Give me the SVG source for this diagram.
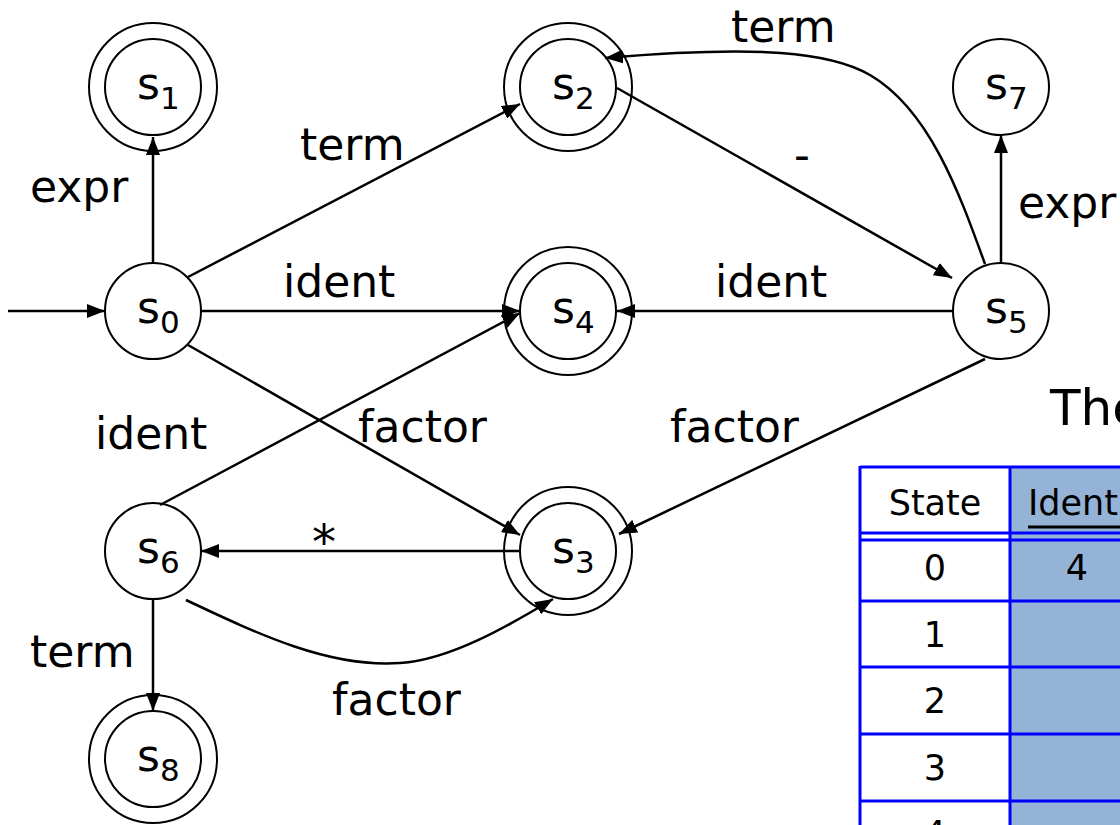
<svg xmlns="http://www.w3.org/2000/svg" width="1120" height="825" viewBox="0 0 1120 825">
<style>
  .c { fill: #fff; stroke: #000; stroke-width: 2; }
  .c2 { fill: none; stroke: #000; stroke-width: 2; }
  .e { fill: none; stroke: #000; stroke-width: 2.5; marker-end: url(#ah); }
  .t { font-family: "DejaVu Sans", "Liberation Sans", sans-serif; font-size: 44px; fill: #000; }
  .sub { font-size: 31px; }
  .tb { font-family: "DejaVu Sans", "Liberation Sans", sans-serif; font-size: 35px; fill: #000; text-anchor: middle; }
  .bl { stroke: #0000ff; stroke-width: 3; fill: none; }
</style>
<defs>
  <marker id="ah" viewBox="0 0 18 14" refX="18" refY="7" markerWidth="18" markerHeight="14" orient="auto" markerUnits="userSpaceOnUse">
    <path d="M0,0 L18,7 L0,14 z" fill="#000"/>
  </marker>
</defs>
<rect width="1120" height="825" fill="#fff"/>

<g id="table">
  <rect x="1010" y="467" width="112" height="360" fill="#95b3d7"/>
  <line class="bl" x1="860" y1="467" x2="1122" y2="467"/>
  <line class="bl" x1="860" y1="533" x2="1122" y2="533"/>
  <line class="bl" x1="860" y1="540" x2="1122" y2="540"/>
  <line class="bl" x1="860" y1="601" x2="1122" y2="601"/>
  <line class="bl" x1="860" y1="667" x2="1122" y2="667"/>
  <line class="bl" x1="860" y1="734" x2="1122" y2="734"/>
  <line class="bl" x1="860" y1="801" x2="1122" y2="801"/>
  <line class="bl" x1="860" y1="466" x2="860" y2="827"/>
  <line class="bl" x1="1010" y1="466" x2="1010" y2="827"/>
  <text class="tb" x="935" y="515">State</text>
  <text class="tb" x="1028" y="515" style="text-anchor:start">Ident</text>
  <line x1="1028" y1="527" x2="1122" y2="527" stroke="#000" stroke-width="3"/>
  <text class="tb" x="935" y="580">0</text>
  <text class="tb" x="1077" y="580">4</text>
  <text class="tb" x="935" y="647">1</text>
  <text class="tb" x="935" y="713">2</text>
  <text class="tb" x="935" y="780">3</text>
  <text class="tb" x="935" y="846">4</text>
</g>

<text class="t" x="1050" y="425" style="font-size:50px">The</text>

<g id="s0"><circle class="c" cx="153" cy="311" r="48"/><text class="t" x="137" y="323">s<tspan class="sub" dy="10">0</tspan></text></g>
<g id="s1"><circle class="c" cx="153" cy="87" r="64"/><circle class="c2" cx="153" cy="87" r="48"/><text class="t" x="137" y="99">s<tspan class="sub" dy="10">1</tspan></text></g>
<g id="s2"><circle class="c" cx="568" cy="87" r="64"/><circle class="c2" cx="568" cy="87" r="48"/><text class="t" x="552" y="99">s<tspan class="sub" dy="10">2</tspan></text></g>
<g id="s3"><circle class="c" cx="568" cy="551" r="64"/><circle class="c2" cx="568" cy="551" r="48"/><text class="t" x="552" y="563">s<tspan class="sub" dy="10">3</tspan></text></g>
<g id="s4"><circle class="c" cx="568" cy="311" r="64"/><circle class="c2" cx="568" cy="311" r="48"/><text class="t" x="552" y="323">s<tspan class="sub" dy="10">4</tspan></text></g>
<g id="s5"><circle class="c" cx="1001" cy="311" r="48"/><text class="t" x="985" y="323">s<tspan class="sub" dy="10">5</tspan></text></g>
<g id="s6"><circle class="c" cx="153" cy="551" r="48"/><text class="t" x="137" y="563">s<tspan class="sub" dy="10">6</tspan></text></g>
<g id="s7"><circle class="c" cx="1001" cy="87" r="48"/><text class="t" x="985" y="99">s<tspan class="sub" dy="10">7</tspan></text></g>
<g id="s8"><circle class="c" cx="153" cy="759" r="64"/><circle class="c2" cx="153" cy="759" r="48"/><text class="t" x="137" y="771">s<tspan class="sub" dy="10">8</tspan></text></g>

<g id="edges">
  <line class="e" x1="8" y1="311" x2="105" y2="311"/>
  <line class="e" x1="153" y1="263" x2="153" y2="137"/>
  <line class="e" x1="188" y1="277" x2="520" y2="104"/>
  <line class="e" x1="201" y1="311" x2="520" y2="311"/>
  <line class="e" x1="188" y1="345" x2="520" y2="535"/>
  <line class="e" x1="160" y1="505" x2="520" y2="313"/>
  <line class="e" x1="953" y1="311" x2="617" y2="311"/>
  <line class="e" x1="617" y1="88" x2="952" y2="278"/>
  <path class="e" d="M985,264 C960,195 930,110 870,75 C830,52 760,45 605,58"/>
  <line class="e" x1="1001" y1="263" x2="1001" y2="135"/>
  <line class="e" x1="985" y1="359" x2="619" y2="534"/>
  <line class="e" x1="520" y1="551" x2="201" y2="551"/>
  <path class="e" d="M186,600 C260,635 330,668 400,663 C450,660 510,625 553,599"/>
  <line class="e" x1="153" y1="599" x2="153" y2="711"/>
</g>

<g id="labels">
  <text class="t" x="30" y="202">expr</text>
  <text class="t" x="300" y="160">term</text>
  <text class="t" x="283" y="297">ident</text>
  <text class="t" x="715" y="297">ident</text>
  <text class="t" x="731" y="42">term</text>
  <text class="t" x="802" y="170" text-anchor="middle">-</text>
  <text class="t" x="1018" y="218">expr</text>
  <text class="t" x="358" y="442">factor</text>
  <text class="t" x="670" y="442">factor</text>
  <text class="t" x="95" y="449">ident</text>
  <text class="t" x="324" y="559" text-anchor="middle" style="font-size:48px">*</text>
  <text class="t" x="30" y="667">term</text>
  <text class="t" x="332" y="715">factor</text>
</g>
</svg>
